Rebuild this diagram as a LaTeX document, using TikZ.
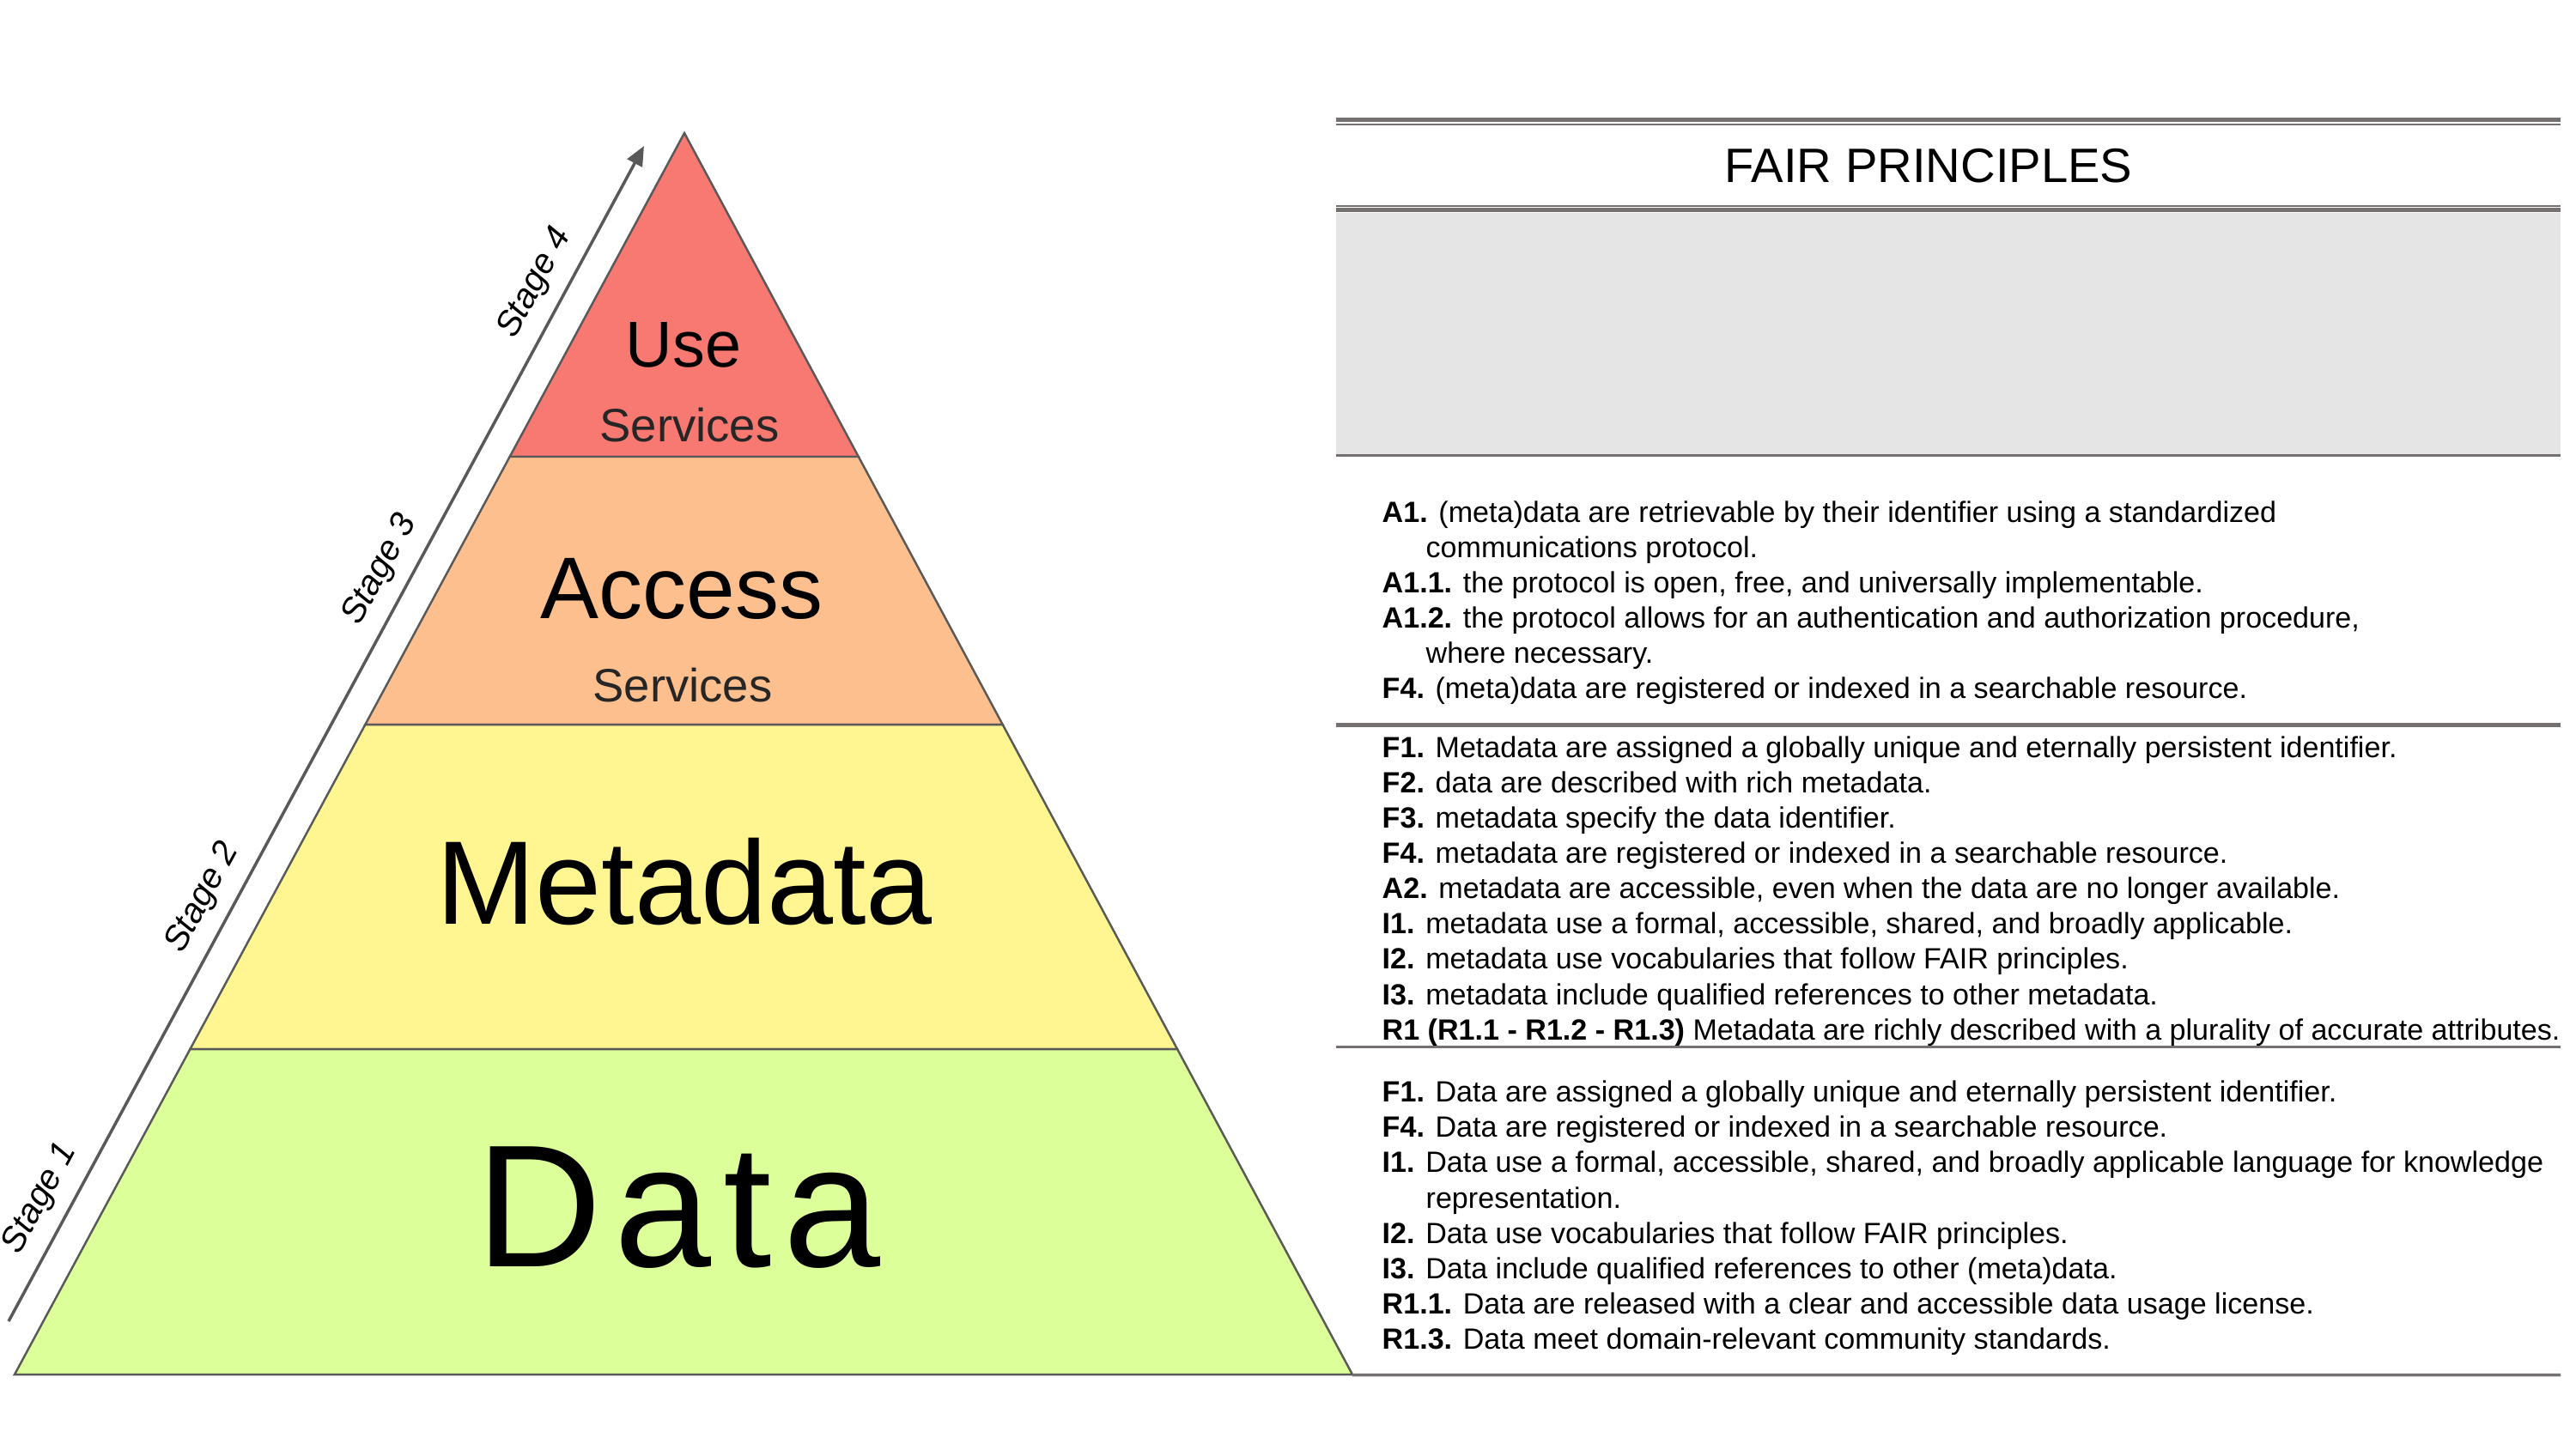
\documentclass[tikz,border=0pt]{standalone}
\usepackage{fontspec}
\setmainfont{Liberation Sans}
\usetikzlibrary{arrows.meta, calc}
\definecolor{usered}{HTML}{F87872}
\definecolor{accessorange}{HTML}{FDBF8E}
\definecolor{metayellow}{HTML}{FFF591}
\definecolor{datagreen}{HTML}{DDFF99}
\definecolor{edgegray}{HTML}{595959}
\definecolor{subgray}{HTML}{262626}
\definecolor{rulegray}{HTML}{767171}
\definecolor{boxgray}{HTML}{E5E5E5}
\newcommand{\topstrut}{\rule{0pt}{10pt}}
\newcommand{\hang}{\hspace*{14.5pt}}
\tikzset{
  tier/.style = {draw=edgegray, line width=0.7pt},
  tiername/.style = {inner sep=0pt, anchor=base, text=black},
  tiersub/.style = {inner sep=0pt, anchor=base, text=subgray, font=\fontsize{15.5}{18}\selectfont},
  stagearrow/.style = {draw=edgegray, line width=1pt, -{Triangle[length=6.5pt, width=5.5pt]}},
  stagelabel/.style = {sloped, above=1pt, font=\fontsize{11.5}{13}\selectfont\itshape},
  panelrule/.style = {draw=rulegray},
  principles/.style = {anchor=north west, inner sep=0pt, align=left, font=\fontsize{9.7}{11.69}\selectfont}
}

\begin{document}
\begin{tikzpicture}
  \useasboundingbox (0,0) rectangle (30,-16.88);

  % Pyramid corners
  \coordinate (apex) at (7.97,-1.55);
  \coordinate (baseleft) at (0.17,-16.01);
  \coordinate (baseright) at (15.75,-16.01);
  \coordinate (ul) at ($(apex)!0.2607!(baseleft)$);
  \coordinate (ur) at ($(apex)!0.2607!(baseright)$);
  \coordinate (al) at ($(apex)!0.4765!(baseleft)$);
  \coordinate (ar) at ($(apex)!0.4765!(baseright)$);
  \coordinate (ml) at ($(apex)!0.7379!(baseleft)$);
  \coordinate (mr) at ($(apex)!0.7379!(baseright)$);

  % Pyramid tiers
  \filldraw[tier, fill=usered] (apex) -- (ur) -- (ul) -- cycle;
  \filldraw[tier, fill=accessorange] (ul) -- (ur) -- (ar) -- (al) -- cycle;
  \filldraw[tier, fill=metayellow] (al) -- (ar) -- (mr) -- (ml) -- cycle;
  \filldraw[tier, fill=datagreen] (ml) -- (mr) -- (baseright) -- (baseleft) -- cycle;

  % Tier labels
  \node (use) [tiername, font=\fontsize{21.5}{24}\selectfont] at (7.96,-4.27) {Use};
  \node (useservices) [tiersub] at (8.03,-5.14) {Services};
  \node (access) [tiername, font=\fontsize{29}{32}\selectfont] at (7.94,-7.20) {Access};
  \node (accessservices) [tiersub] at (7.95,-8.17) {Services};
  \node (metadata) [tiername, font=\fontsize{39.4}{44}\selectfont] at (7.97,-10.76) {Metadata};
  \node (data) [tiername, font=\fontsize{57.8}{64}\selectfont] at (7.90,-14.75) {D\kern4pt a\kern4pt t\kern4pt a};

  % Stages
  \coordinate (stagestart) at (0.10,-15.39);
  \coordinate (stageend) at (7.50,-1.70);
  \draw[stagearrow] (stagestart) --
    node[stagelabel, pos=0.092, above=0pt] (stage1) {Stage 1}
    node[stagelabel, pos=0.348] (stage2) {Stage 2}
    node[stagelabel, pos=0.627] (stage3) {Stage 3}
    node[stagelabel, pos=0.871] (stage4) {Stage 4} (stageend);

  % Principles panel
  \draw[panelrule, line width=1.42pt] (15.56,-1.395) -- (29.82,-1.395);
  \draw[panelrule, line width=0.57pt] (15.56,-1.447) -- (29.82,-1.447);
  \node (title) [font=\fontsize{16}{19}\selectfont] at (22.46,-1.93) {FAIR PRINCIPLES};
  \draw[panelrule, line width=0.57pt] (15.56,-2.403) -- (29.82,-2.403);
  \draw[panelrule, line width=1.42pt] (15.56,-2.448) -- (29.82,-2.448);
  \fill[boxgray] (15.56,-2.475) rectangle (29.82,-5.29);
  \draw[panelrule, line width=1pt] (15.56,-5.307) -- (29.82,-5.307);
  \draw[panelrule, line width=1.2pt] (15.56,-8.445) -- (29.82,-8.445);
  \draw[panelrule, line width=1pt] (15.56,-12.195) -- (29.82,-12.195);
  \draw[panelrule, line width=1pt] (baseright) ++(0,-0.005) -- (29.82,-16.015);

  \node (accessprinciples) [principles] at (16.09,-5.725) {\topstrut\textbf{A1.} (meta)data are retrievable by their identifier using a standardized\\
    \hang communications protocol.\\
    \textbf{A1.1.} the protocol is open, free, and universally implementable.\\
    \textbf{A1.2.} the protocol allows for an authentication and authorization procedure,\\
    \hang where necessary.\\
    \textbf{F4.} (meta)data are registered or indexed in a searchable resource.};

  \node (metaprinciples) [principles] at (16.09,-8.466) {\topstrut\textbf{F1.} Metadata are assigned a globally unique and eternally persistent identifier.\\
    \textbf{F2.} data are described with rich metadata.\\
    \textbf{F3.} metadata specify the data identifier.\\
    \textbf{F4.} metadata are registered or indexed in a searchable resource.\\
    \textbf{A2.} metadata are accessible, even when the data are no longer available.\\
    \textbf{I1.} metadata use a formal, accessible, shared, and broadly applicable.\\
    \textbf{I2.} metadata use vocabularies that follow FAIR principles.\\
    \textbf{I3.} metadata include qualified references to other metadata.\\
    \textbf{R1 (R1.1 - R1.2 - R1.3)} Metadata are richly described with a plurality of accurate attributes.};

  \node (dataprinciples) [principles] at (16.09,-12.479) {\topstrut\textbf{F1.} Data are assigned a globally unique and eternally persistent identifier.\\
    \textbf{F4.} Data are registered or indexed in a searchable resource.\\
    \textbf{I1.} Data use a formal, accessible, shared, and broadly applicable language for knowledge\\
    \hang representation.\\
    \textbf{I2.} Data use vocabularies that follow FAIR principles.\\
    \textbf{I3.} Data include qualified references to other (meta)data.\\
    \textbf{R1.1.} Data are released with a clear and accessible data usage license.\\
    \textbf{R1.3.} Data meet domain-relevant community standards.};
\end{tikzpicture}
\end{document}
